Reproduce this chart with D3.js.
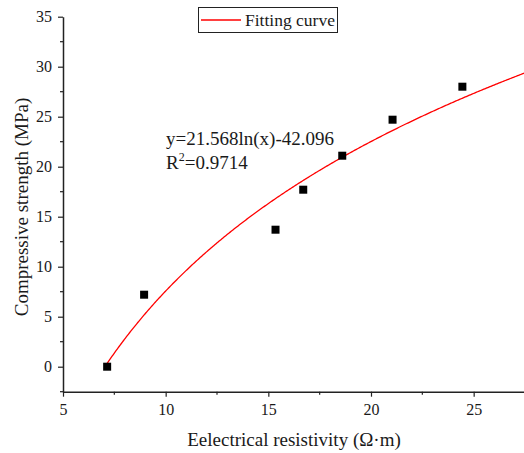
<!DOCTYPE html>
<html>
<head>
<meta charset="utf-8">
<script src="https://cdn.jsdelivr.net/npm/d3@7"></script>
<style>
  body { margin: 0; background: #fff; }
  svg text { font-family: "Liberation Serif", "Times New Roman", serif; fill: #1a1a1a; }
</style>
</head>
<body>
<div id="chart"></div>
<script>
// measured points
const resistivity = [7.15, 8.95, 15.35, 16.7, 18.6, 21.05, 24.45];
const strength = [0, 7.2, 13.7, 17.7, 21.1, 24.7, 28.0];

// fit y = a*ln(x) + b
const fitA = 21.568;
const fitB = -42.096;
const fitLabel = 'y=21.568ln(x)-42.096';
const r2Label = '0.9714';

const xTicks = [5, 10, 15, 20, 25];
const yTicks = [0, 5, 10, 15, 20, 25, 30, 35];

const width = 524;
const height = 453;

const svg = d3.select('#chart')
    .append('svg')
        .attr('width', width)
        .attr('height', height);

const x = d3.scaleLinear()
    .domain([5, 27.5])
    .range([63, 525]);

const y = d3.scaleLinear()
    .domain([-2.5, 35])
    .range([391.7, 16.7]);

// bottom axis
const xAxis = svg.append('g')
    .attr('transform', `translate(0,${y(-2.5)})`)
    .call(d3.axisBottom(x).tickValues(xTicks).tickSize(5).tickPadding(7).tickSizeOuter(0));
xAxis.attr('font-family', null);
xAxis.select('.domain').attr('stroke', '#222').attr('stroke-width', 1.5);
xAxis.selectAll('.tick line').attr('stroke', '#222').attr('stroke-width', 1.2);
xAxis.selectAll('.tick text').attr('font-size', 16).attr('fill', '#1a1a1a');

// x minor ticks
svg.append('g')
    .selectAll('line')
    .data([7.5, 12.5, 17.5, 22.5])
    .join('line')
        .attr('x1', d => x(d))
        .attr('x2', d => x(d))
        .attr('y1', y(-2.5))
        .attr('y2', y(-2.5) + 3)
        .attr('stroke', '#222')
        .attr('stroke-width', 1.2);

// left axis
const yAxis = svg.append('g')
    .attr('transform', `translate(${x(5)},0)`)
    .call(d3.axisLeft(y).tickValues(yTicks).tickSize(5).tickPadding(6).tickSizeOuter(0));
yAxis.attr('font-family', null);
yAxis.select('.domain').attr('stroke', '#222').attr('stroke-width', 1.5);
yAxis.selectAll('.tick line').attr('stroke', '#222').attr('stroke-width', 1.2);
yAxis.selectAll('.tick text').attr('font-size', 16).attr('fill', '#1a1a1a');

// y minor ticks
svg.append('g')
    .selectAll('line')
    .data([-2.5, 2.5, 7.5, 12.5, 17.5, 22.5, 27.5, 32.5])
    .join('line')
        .attr('x1', x(5))
        .attr('x2', x(5) - 3)
        .attr('y1', d => y(d))
        .attr('y2', d => y(d))
        .attr('stroke', '#222')
        .attr('stroke-width', 1.2);

// fitting curve, starts where it crosses zero
const xStart = Math.exp(-fitB / fitA);
const curveData = d3.range(xStart, 27.5, 0.05).concat([27.5])
    .map(v => ({ x: v, y: fitA * Math.log(v) + fitB }));

svg.append('path')
    .datum(curveData)
    .attr('fill', 'none')
    .attr('stroke', '#f00')
    .attr('stroke-width', 1.3)
    .attr('d', d3.line().x(d => x(d.x)).y(d => y(d.y)));

// points
const marker = 8;
svg.append('g')
    .selectAll('rect')
    .data(resistivity)
    .join('rect')
        .attr('x', d => x(d) - marker / 2)
        .attr('y', (d, i) => y(strength[i]) - marker / 2)
        .attr('width', marker)
        .attr('height', marker)
        .attr('fill', '#000');

// equation
svg.append('text')
    .attr('x', 166)
    .attr('y', 145)
    .attr('font-size', 19)
    .text(fitLabel);

const r2 = svg.append('text')
    .attr('x', 166)
    .attr('y', 169)
    .attr('font-size', 19);
r2.append('tspan').text('R');
r2.append('tspan').attr('font-size', 12).attr('dy', -8).text('2');
r2.append('tspan').attr('dy', 8).text('=' + r2Label);

// legend
const legend = svg.append('g');
legend.append('rect')
    .attr('x', 198.5)
    .attr('y', 7.5)
    .attr('width', 139)
    .attr('height', 25)
    .attr('fill', '#fff')
    .attr('stroke', '#222')
    .attr('stroke-width', 1);
legend.append('line')
    .attr('x1', 201)
    .attr('x2', 241)
    .attr('y1', 20)
    .attr('y2', 20)
    .attr('stroke', '#f00')
    .attr('stroke-width', 1.3);
legend.append('text')
    .attr('x', 245)
    .attr('y', 26)
    .attr('font-size', 17.5)
    .text('Fitting curve');

// axis titles
svg.append('text')
    .attr('x', 294)
    .attr('y', 446)
    .attr('text-anchor', 'middle')
    .attr('font-size', 19)
    .text('Eelectrical resistivity (Ω·m)');

svg.append('text')
    .attr('transform', 'translate(28,207) rotate(-90)')
    .attr('text-anchor', 'middle')
    .attr('font-size', 19)
    .text('Compressive strength (MPa)');
</script>
</body>
</html>
